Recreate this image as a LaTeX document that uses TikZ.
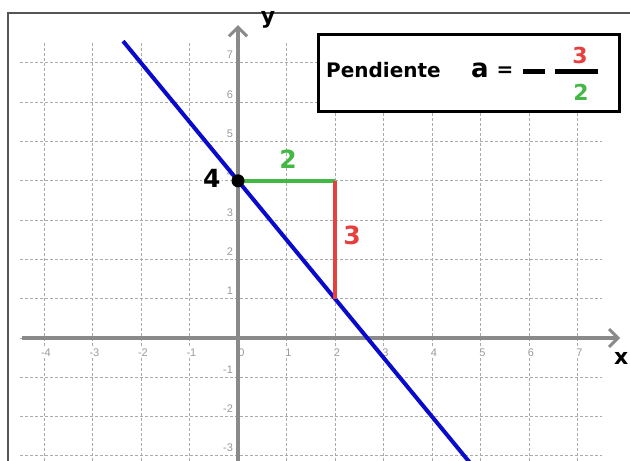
\documentclass[tikz,border=0pt]{standalone}
\usepackage{fontspec}
\setmainfont{DejaVu Sans}
\newfontfamily\tickfont{Liberation Sans}
\usetikzlibrary{arrows.meta}
\definecolor{gridc}{HTML}{ABABAB}
\definecolor{axisc}{HTML}{8A8A8A}
\definecolor{framec}{HTML}{555555}
\definecolor{tickc}{HTML}{9A9A9A}
\definecolor{bluel}{HTML}{0A0ACC}
\definecolor{greenl}{HTML}{44B844}
\definecolor{redl}{HTML}{E5403E}
\tikzset{
  gridline/.style={gridc, line width=0.9pt, dash pattern=on 3pt off 2pt},
  axisline/.style={axisc, line width=3.2pt, -{Straight Barb[length=9pt,width=18pt,line width=3pt]}},
  ticklbl/.style={font=\tickfont\fontsize{11}{13}\selectfont, text=tickc, fill=white, inner sep=1pt},
  biglbl/.style={font=\bfseries\fontsize{25}{30}\selectfont, inner sep=1pt},
}
\begin{document}
\begin{tikzpicture}[x=1pt,y=-1pt]
\useasboundingbox (0,0) rectangle (630,461);
\fill[white] (0,0) rectangle (630,461);
\draw[framec, line width=1.5pt] (8,480) -- (8,13) -- (650,13);
\begin{scope}[shift={(238,338)}, x=48.5pt, y=39.3pt]
  % grid
  \foreach \k in {-3,...,7} {\draw[gridline] (-4.49,\k) -- (7.5,\k);}
  \foreach \k in {-4,...,7} {\draw[gridline] (\k,7.5) -- (\k,-3.3);}
  % tick labels
  \foreach \k in {-4,-3,-2,-1,1,2,3,4,5,6,7} {\node[ticklbl] (tx\k) at (\k+0.04,-0.38) {\k};}
  \node[ticklbl, fill=none] (tx0) at (0.07,-0.38) {0};
  \foreach \k in {-3,-2,-1,1,2,3,4,5,6,7} {\node[ticklbl, anchor=east] (ty\k) at (-0.08,\k+0.2) {\k};}
  % axes
  \coordinate (xs) at (-4.45,0);
  \coordinate (xe) at (7.88,0);
  \coordinate (ys) at (0,-3.3);
  \coordinate (ye) at (0,7.96);
  \draw[axisline] (xs) -- (xe);
  \draw[axisline] (ys) -- (ye);
  \node[font=\bfseries\fontsize{22}{26}\selectfont, inner sep=0pt] (ylab) at (0.62,8.1) {y};
  \node[font=\bfseries\fontsize{22}{26}\selectfont, inner sep=0pt] (xlab) at (7.9,-0.52) {x};
  % line y = 4 - 1.5x
  \coordinate (la) at (-2.37,7.555);
  \coordinate (lb) at (4.85,-3.275);
  \draw[bluel, line width=4pt] (la) -- (lb);
  % slope triangle
  \coordinate (p0) at (0,4);
  \coordinate (p1) at (2,4);
  \coordinate (p2) at (2,1);
  \draw[greenl, line width=3.8pt] (p0) -- (p1);
  \draw[redl, line width=3.8pt] (p1) -- (p2);
  \fill[black] (p0) circle (6.5pt);
  \node[biglbl, fill=white] (four) at (-0.54,4.06) {4};
  \node[biglbl, text=greenl] (two) at (1.03,4.55) {2};
  \node[biglbl, text=redl] (three) at (2.35,2.6) {3};
\end{scope}
% slope box
\node[draw=black, line width=2.8pt, fill=white, minimum width=301pt, minimum height=77pt, anchor=north west, inner sep=0pt] (box) at (317,33) {};
\node[font=\bfseries\fontsize{20}{24}\selectfont, anchor=base west, inner sep=0pt] (pend) at (326,77) {Pendiente};
\node[font=\bfseries\fontsize{26}{30}\selectfont, anchor=base west, inner sep=0pt] (aa) at (471,77) {a};
\node[font=\bfseries\fontsize{20}{24}\selectfont, inner sep=0pt] (eq) at (505,72) {=};
\draw[black, line width=5pt] (523,71.5) -- (545,71.5);
\draw[black, line width=4.5pt] (555,71.5) -- (598,71.5);
\node[font=\bfseries\fontsize{22}{26}\selectfont, text=redl, inner sep=0pt] (num) at (580,55) {3};
\node[font=\bfseries\fontsize{22}{26}\selectfont, text=greenl, inner sep=0pt] (den) at (581,92) {2};
\end{tikzpicture}
\end{document}
